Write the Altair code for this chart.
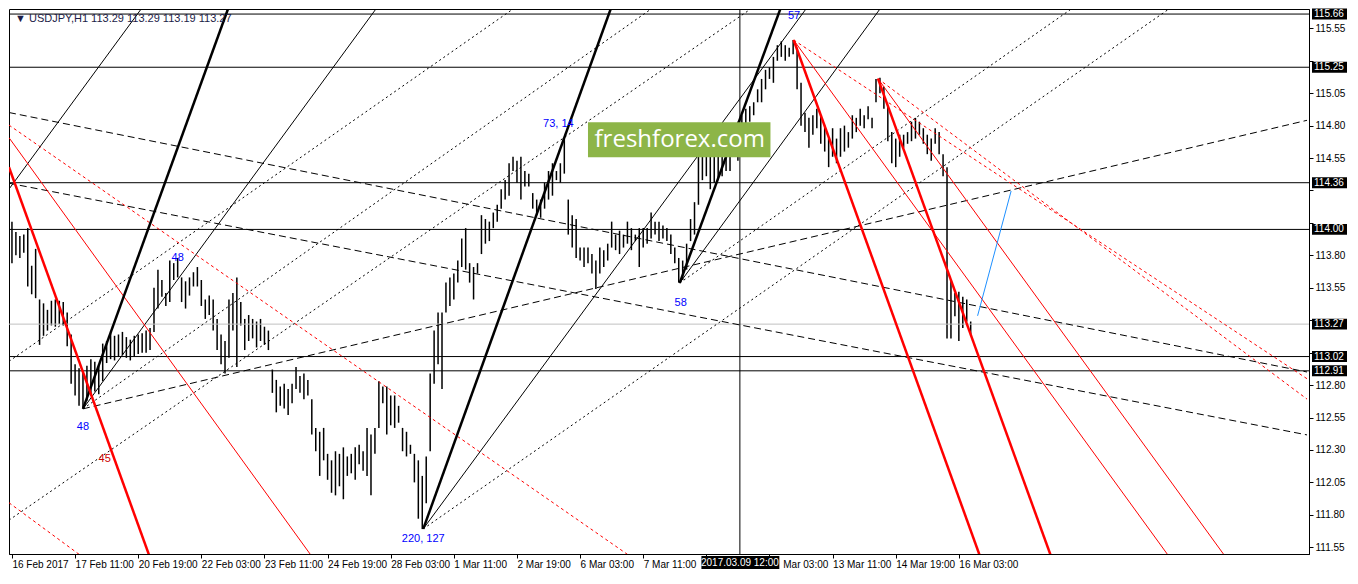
import altair as alt
import pandas as pd

# ---------------- data ----------------
# USDJPY H1 bars, one entry per two hourly slots (hour index = 2*k)
highs = [114.06,113.98,113.95,113.96,114.01,113.72,113.85,113.46,113.43,113.38,
         113.45,113.46,113.45,113.44,113.36,113.19,112.96,112.93,112.90,112.95,
         113.00,112.98,112.96,113.12,113.14,113.20,113.18,113.19,113.21,113.17,
         113.15,113.18,113.19,113.20,113.22,113.24,113.55,113.69,113.61,113.51,
         113.76,113.74,113.78,113.63,113.60,113.63,113.67,113.71,113.61,113.46,
         113.49,113.46,113.31,113.19,113.14,113.46,113.51,113.63,113.44,113.31,
         113.34,113.31,113.29,113.31,113.25,113.22,112.92,112.84,112.79,112.81,
         112.77,112.81,112.94,112.87,112.89,112.84,112.69,112.47,112.44,112.47,
         112.27,112.22,112.29,112.27,112.32,112.25,112.27,112.32,112.34,112.29,
         112.47,112.42,112.47,112.83,112.79,112.79,112.72,112.72,112.64,112.47,
         112.44,112.34,112.27,112.22,112.10,112.25,112.89,113.22,113.36,113.36,
         113.59,113.63,113.66,113.76,113.93,114.01,113.74,113.71,113.74,114.11,
         114.08,114.06,114.13,114.19,114.31,114.38,114.51,114.56,114.53,114.56,
         114.45,114.43,114.28,114.23,114.23,114.36,114.45,114.51,114.45,114.51,
         114.70,114.23,114.11,114.08,113.86,113.86,113.86,113.81,113.76,113.86,
         113.84,113.89,114.06,113.96,113.99,113.96,114.06,114.01,113.96,114.01,
         114.01,114.01,114.13,114.06,114.06,114.03,114.01,113.96,113.86,113.78,
         113.76,113.89,114.08,114.21,114.58,114.60,114.63,114.58,114.60,114.56,
         114.66,114.63,114.70,114.75,114.83,114.88,114.93,114.95,114.98,115.08,
         115.16,115.23,115.25,115.33,115.42,115.45,115.42,115.40,115.46,115.40,
         115.13,114.90,114.86,114.88,114.93,114.88,114.80,114.70,114.78,114.70,
         114.78,114.80,114.75,114.88,114.86,114.93,114.88,114.95,114.86,115.16,
         115.17,115.10,114.95,114.75,114.70,114.73,114.73,114.75,114.83,114.86,
         114.83,114.78,114.73,114.70,114.78,114.75,114.58,114.48,113.61,113.51,
         113.52,113.48,113.46,113.29]
lows = [113.74,113.80,113.78,113.82,113.56,113.50,113.47,113.11,113.18,113.22,
        113.26,113.25,113.27,113.26,113.10,112.81,112.72,112.64,112.62,112.68,
        112.72,112.75,112.73,112.83,112.97,113.00,112.99,113.02,113.03,113.01,
        112.99,113.02,113.04,113.05,113.05,113.07,113.21,113.39,113.48,113.41,
        113.44,113.61,113.63,113.44,113.39,113.49,113.56,113.56,113.41,113.31,
        113.34,113.22,113.07,112.96,112.89,113.01,113.22,112.94,113.26,113.07,
        113.14,113.16,113.09,113.14,113.11,113.07,112.74,112.59,112.64,112.62,
        112.57,112.66,112.77,112.74,112.69,112.72,112.42,112.29,112.10,112.22,
        112.07,111.97,111.95,112.02,111.92,112.10,112.12,112.07,112.19,112.14,
        112.10,111.95,112.27,112.47,112.66,112.42,112.49,112.47,112.51,112.29,
        112.25,112.27,112.05,111.77,111.69,111.89,112.29,112.81,112.96,112.77,
        113.36,113.41,113.46,113.59,113.71,113.69,113.59,113.46,113.66,113.81,
        113.89,113.91,114.01,114.06,114.16,114.23,114.26,114.45,114.36,114.23,
        114.33,114.33,114.16,114.11,114.09,114.16,114.23,114.26,114.38,114.36,
        114.43,113.96,113.86,113.78,113.76,113.71,113.74,113.66,113.54,113.66,
        113.71,113.76,113.86,113.84,113.81,113.86,113.89,113.84,113.91,113.71,
        113.86,113.89,113.93,113.96,113.91,113.93,113.91,113.81,113.74,113.59,
        113.61,113.69,113.91,113.96,114.19,114.38,114.41,114.31,114.36,114.38,
        114.41,114.45,114.45,114.56,114.53,114.63,114.75,114.83,114.88,114.98,
        114.98,115.08,115.16,115.13,115.30,115.33,115.30,115.33,115.35,115.08,
        114.80,114.75,114.63,114.73,114.78,114.66,114.60,114.48,114.56,114.51,
        114.56,114.60,114.63,114.70,114.75,114.80,114.78,114.85,114.78,114.98,
        115.05,114.93,114.68,114.51,114.48,114.56,114.63,114.66,114.68,114.70,
        114.73,114.66,114.58,114.53,114.66,114.58,114.41,113.16,113.16,113.33,
        113.14,113.24,113.29,113.19]

x_tick_values = [0, 32, 64, 96, 128, 160, 192, 224, 256, 288, 320, 352, 384, 416, 448, 480]
# labels under the cursor box are hidden ("" ); the visible remainder is drawn separately
x_tick_labels = ["16 Feb 2017", "17 Feb 11:00", "20 Feb 19:00", "22 Feb 03:00",
                 "23 Feb 11:00", "24 Feb 19:00", "28 Feb 03:00", "1 Mar 11:00",
                 "2 Mar 19:00", "6 Mar 03:00", "7 Mar 11:00", "",
                 "", "13 Mar 11:00", "14 Mar 19:00", "16 Mar 03:00"]
partial_x_label = [(391, "Mar 03:00")]
y_tick_values = [111.55, 111.80, 112.05, 112.30, 112.55, 112.80, 113.05, 113.30, 113.55,
                 113.80, 114.05, 114.30, 114.55, 114.80, 115.05, 115.30, 115.55]
y_hidden_labels = ["115.30", "114.30", "114.05", "113.30", "113.05"]

black_levels = [115.66, 115.25, 114.36, 114.00, 113.02, 112.91]
gray_levels = [113.27]
price_tags = [115.66, 115.25, 114.36, 114.00, 113.27, 113.02, 112.91]
cursor_bar = 369
cursor_text = "2017.03.09 12:00"
title_text = "\u25bc USDJPY,H1  113.29 113.29 113.19 113.27"

# trend / fan lines: (hour index 1, price 1, hour index 2, price 2)
black_thick = [(36, 112.617, 109.5, 115.699), (208.5, 111.692, 303.5, 115.699),
               (338.5, 113.587, 389.5, 115.699)]
black_thin = [(-1.5, 114.311, 65.5, 115.699), (36, 112.617, 184.5, 115.699),
              (208.5, 111.692, 402.5, 115.699), (338.5, 113.587, 440, 115.699)]
black_dash = [(36, 112.617, 656.5, 114.841), (-1.5, 114.901, 656.5, 112.901),
              (-1.5, 114.356, 656.5, 112.416)]
black_dot = [(36, 112.617, 324, 115.699), (-1.5, 112.983, 254, 115.699),
             (-1.5, 111.759, 374.5, 115.699), (208.5, 111.692, 586.5, 115.699),
             (338.5, 113.587, 537, 115.699)]
red_thick = [(-1.5, 114.479, 69.5, 111.490), (396.25, 115.460, 490.5, 111.490),
             (439, 115.162, 526.5, 111.490)]
red_thin = [(-1.5, 114.707, 151.5, 111.490), (396.25, 115.460, 586, 111.490),
            (439, 115.162, 614.5, 111.490)]
red_dot = [(-1.5, 114.804, 312.5, 111.490), (396.25, 115.460, 656.5, 112.849),
           (439, 115.162, 656.5, 112.692), (-1.5, 111.893, 34.5, 111.490)]
blue_line = [(489.5, 113.334, 506.5, 114.296)]

blue_labels = [(36, 112.475, "48"), (84, 113.781, "48"), (208.5, 111.610, "220, 127"),
               (277, 114.811, "73, 14"), (339, 113.430, "58"), (396.5, 115.645, "57")]
red_labels = [(47, 112.229, "45")]
watermark_box = [(292, 114.826, 384.5, 114.557)]
watermark_text = [(338.5, 114.692, "freshforex.com")]

# ---------------- chart ----------------
W, H = 1300, 545
FONT = "Liberation Sans"
xs = alt.Scale(domain=[-1.5, 657.5], nice=False, zero=False)
ys = alt.Scale(domain=[111.498, 115.699], nice=False, zero=False)

labels_js = "[" + ",".join("'" + s + "'" for s in x_tick_labels) + "]"
hidden_js = "[" + ",".join("'" + s + "'" for s in y_hidden_labels) + "]"
XAX = alt.Axis(values=x_tick_values, labelExpr=labels_js + "[round(datum.value/32)]",
               labelAlign="left", labelFont=FONT, labelFontSize=10, labelColor="black",
               tickColor="black", tickSize=4, domainColor="black", labelPadding=1,
               grid=False, title=None, labelOverlap=False, labelFlush=False,
               labelBound=False)
YAX = alt.Axis(orient="right", values=y_tick_values,
               labelExpr="indexof(" + hidden_js + ", format(datum.value, '.2f')) >= 0 ? '' : format(datum.value, '.2f')",
               labelFont=FONT, labelFontSize=10, labelColor="black", tickColor="black",
               tickSize=4, domainColor="black", labelPadding=2, grid=False, title=None,
               labelOverlap=False, labelFlush=False, labelBound=False)


def X(f):
    return alt.X(f, scale=xs, axis=XAX)


def Y(f):
    return alt.Y(f, scale=ys, axis=YAX)


bars_df = pd.DataFrame({"x": [2 * k for k in range(len(highs))], "h": highs, "l": lows})
bars = alt.Chart(bars_df).mark_rule(color="black", strokeWidth=1.5).encode(
    x=X("x:Q"), y=Y("l:Q"), y2="h:Q")


def seg_layer(segs, color, width, dash=None):
    df = pd.DataFrame(segs, columns=["x1", "p1", "x2", "p2"])
    kw = dict(color=color, strokeWidth=width, clip=True)
    if dash:
        kw["strokeDash"] = dash
    return alt.Chart(df).mark_rule(**kw).encode(
        x=X("x1:Q"), y=Y("p1:Q"), x2="x2:Q", y2="p2:Q")


hl_black = alt.Chart(pd.DataFrame({"p": black_levels})).mark_rule(
    color="black", strokeWidth=1).encode(y=Y("p:Q"))
hl_gray = alt.Chart(pd.DataFrame({"p": gray_levels})).mark_rule(
    color="#c0c0c0", strokeWidth=1).encode(y=Y("p:Q"))
vline = alt.Chart(pd.DataFrame({"x": [cursor_bar]})).mark_rule(
    color="black", strokeWidth=1).encode(x=X("x:Q"))

wm_box = alt.Chart(pd.DataFrame(watermark_box, columns=["x1", "p1", "x2", "p2"])).mark_rect(
    color="#8db548").encode(x=X("x1:Q"), x2="x2:Q", y=Y("p1:Q"), y2="p2:Q")
wm_text = alt.Chart(pd.DataFrame(watermark_text, columns=["x", "p", "t"])).mark_text(
    color="white", font="Open Sans", fontSize=24, align="center", baseline="middle").encode(
    x=X("x:Q"), y=Y("p:Q"), text="t:N")


def text_layer(rows, color):
    df = pd.DataFrame(rows, columns=["x", "p", "t"])
    return alt.Chart(df).mark_text(color=color, font=FONT, fontSize=11, align="center",
                                   baseline="middle").encode(
        x=X("x:Q"), y=Y("p:Q"), text="t:N")


title = alt.Chart(pd.DataFrame({"t": [title_text]})).mark_text(
    color="#1c1c48", font=FONT, fontSize=11, align="left", baseline="middle").encode(
    x=alt.value(6), y=alt.value(10), text="t:N")

tags_df = pd.DataFrame({"p": price_tags, "t": ["%.2f" % v for v in price_tags]})
tag_box = alt.Chart(tags_df).transform_calculate(
    top="datum.p + 0.042", bot="datum.p - 0.042").mark_rect(color="black").encode(
    x=alt.value(W + 3), x2=alt.value(W + 38), y=Y("top:Q"), y2="bot:Q")
tag_text = alt.Chart(tags_df).mark_text(color="white", font=FONT, fontSize=10, align="left",
                                        baseline="middle").encode(
    x=alt.value(W + 5), y=Y("p:Q"), text="t:N")

cur_df = pd.DataFrame({"x": [cursor_bar], "t": [cursor_text]})
cur_box = alt.Chart(cur_df).transform_calculate(
    a="datum.x - 19.5", b="datum.x + 20").mark_rect(color="black").encode(
    x=X("a:Q"), x2="b:Q", y=alt.value(H + 2), y2=alt.value(H + 15))
cur_text = alt.Chart(cur_df).mark_text(color="white", font=FONT, fontSize=10, align="center",
                                       baseline="middle").encode(
    x=X("x:Q"), y=alt.value(H + 9), text="t:N")
part_lbl = alt.Chart(pd.DataFrame(partial_x_label, columns=["x", "t"])).mark_text(
    color="black", font=FONT, fontSize=10, align="left", baseline="middle").encode(
    x=X("x:Q"), y=alt.value(H + 11), text="t:N")

chart = alt.layer(
    bars, hl_gray, hl_black, vline,
    seg_layer(black_dot, "black", 1, [2, 3]),
    seg_layer(black_dash, "black", 1, [7, 4]),
    seg_layer(red_dot, "#ff0000", 1, [3, 3]),
    seg_layer(black_thin, "black", 1),
    seg_layer(red_thin, "#ff0000", 1),
    seg_layer(black_thick, "black", 2.5),
    seg_layer(red_thick, "#ff0000", 2.5),
    seg_layer(blue_line, "#1e90ff", 1),
    wm_box, wm_text,
    text_layer(blue_labels, "#0000ff"),
    text_layer(red_labels, "#cc0000"),
    title, tag_box, tag_text, cur_box, cur_text, part_lbl,
).properties(width=W, height=H, padding=0, background="white").configure_view(
    stroke="black", strokeWidth=1)

chart.save("out.html", embed_options={"renderer": "svg", "actions": False})
